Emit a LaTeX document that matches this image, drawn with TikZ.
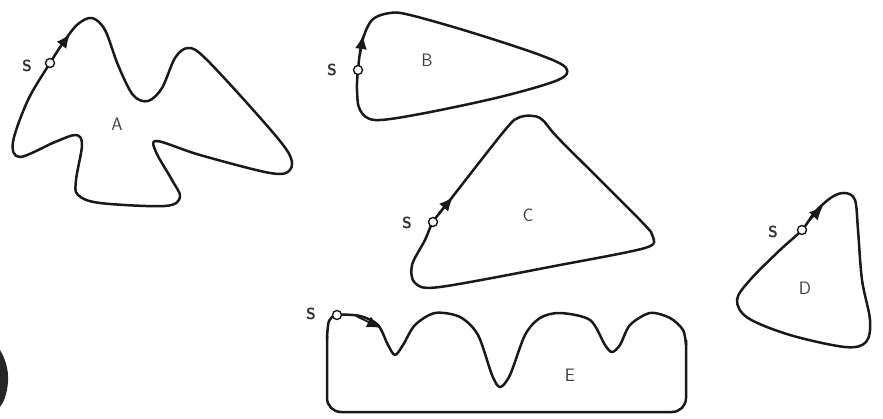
\documentclass[tikz,border=0pt]{standalone}
\usetikzlibrary{arrows.meta}
\begin{document}
\begin{tikzpicture}[x=1pt,y=-1pt,
  curve/.style={line width=2.5pt, black!90, line join=round},
  startpt/.style={circle, draw=black!90, line width=1.4pt, fill=white, minimum size=9pt, inner sep=0pt},
  slabel/.style={font=\sffamily\bfseries\fontsize{16}{16}\selectfont, text=black!80, inner sep=0pt},
  rlabel/.style={font=\sffamily\fontsize{18}{18}\selectfont, text=black!75, inner sep=0pt},
  dirarrow/.style={line width=1.8pt, black!90, -{Latex[length=14pt,width=12pt]}}]
\useasboundingbox (0,0) rectangle (883,419);
% A
\draw[curve] plot[smooth cycle, tension=0.55] coordinates {
 (50,63) (65,40) (78,24) (92,18) (105,30) (118,65) (133,95) (148,101) (162,88)
 (175,58) (188,48) (205,58) (255,112) (288,152) (290,170) (270,173) (200,155)
 (157,141) (156,152) (172,180) (180,197) (165,206) (100,203) (78,195) (76,180)
 (82,145) (76,135) (55,142) (20,157) (13,142) (28,100)};
% B
\draw[curve] plot[smooth cycle, tension=0.55] coordinates {
 (358,70) (362,42) (372,20) (390,13) (410,15) (470,32) (540,55) (566,68)
 (558,80) (500,97) (420,114) (375,120) (360,110) (357,90)};
% C
\draw[curve] plot[smooth cycle, tension=0.5] coordinates {
 (433,222) (450,200) (505,130) (520,117) (540,118) (560,140) (640,220)
 (653,237) (645,248) (560,265) (440,287) (415,283) (412,265) (425,240)};
% D
\draw[curve] plot[smooth cycle, tension=0.55] coordinates {
 (802,230) (815,212) (832,197) (845,193) (855,200) (858,230) (862,280)
 (870,320) (866,342) (845,347) (790,335) (748,318) (737,300) (750,280) (780,250)};
% E: wavy top
\draw[curve] plot[smooth, tension=0.5] coordinates {
 (327,338) (329,321) (337,315) (360,316) (378,325) (388,345) (395,355) (403,345) (415,325)
 (435,313) (460,317) (478,335) (492,375) (500,387) (510,375) (525,335)
 (540,318) (560,313) (590,320) (605,345) (612,352) (620,345) (630,325)
 (650,313) (670,318) (683,330) (686,345)};
% E: rectangular lower part
\draw[curve, rounded corners=14pt] (686,340) -- (686,412) -- (327,412) -- (327,336);
% start points
\node[startpt] (sA) at (50,63) {};
\node[startpt] (sB) at (358,70) {};
\node[startpt] (sC) at (433,222) {};
\node[startpt] (sD) at (802,230) {};
\node[startpt] (sE) at (337,315) {};
% S labels
\node[slabel] (lsA) at (27,66) {S};
\node[slabel] (lsB) at (332,70) {S};
\node[slabel] (lsC) at (407,223) {S};
\node[slabel] (lsD) at (773,232) {S};
\node[slabel] (lsE) at (311,314) {S};
% direction arrows
\coordinate (aA1) at (58,50); \coordinate (aA2) at (70,34);
\coordinate (aB1) at (360,56); \coordinate (aB2) at (363,35);
\coordinate (aC1) at (439,213); \coordinate (aC2) at (453,197);
\coordinate (aD1) at (807,223); \coordinate (aD2) at (823,206);
\coordinate (aE1) at (356,316); \coordinate (aE2) at (381,328);
\draw[dirarrow] (aA1) -- (aA2);
\draw[dirarrow] (aB1) -- (aB2);
\draw[dirarrow] (aC1) -- (aC2);
\draw[dirarrow] (aD1) -- (aD2);
\draw[dirarrow] (aE1) -- (aE2);
% region labels
\node[rlabel] (A) at (117,124) {A};
\node[rlabel] (B) at (427,60) {B};
\node[rlabel] (C) at (528,215) {C};
\node[rlabel] (D) at (805,288) {D};
\node[rlabel] (E) at (570,375) {E};
% left edge fragment
\fill[black!85] (0,350) .. controls (5,358) and (9,370) .. (8,382)
  .. controls (7,394) and (4,402) .. (0,407) -- cycle;
\end{tikzpicture}
\end{document}
